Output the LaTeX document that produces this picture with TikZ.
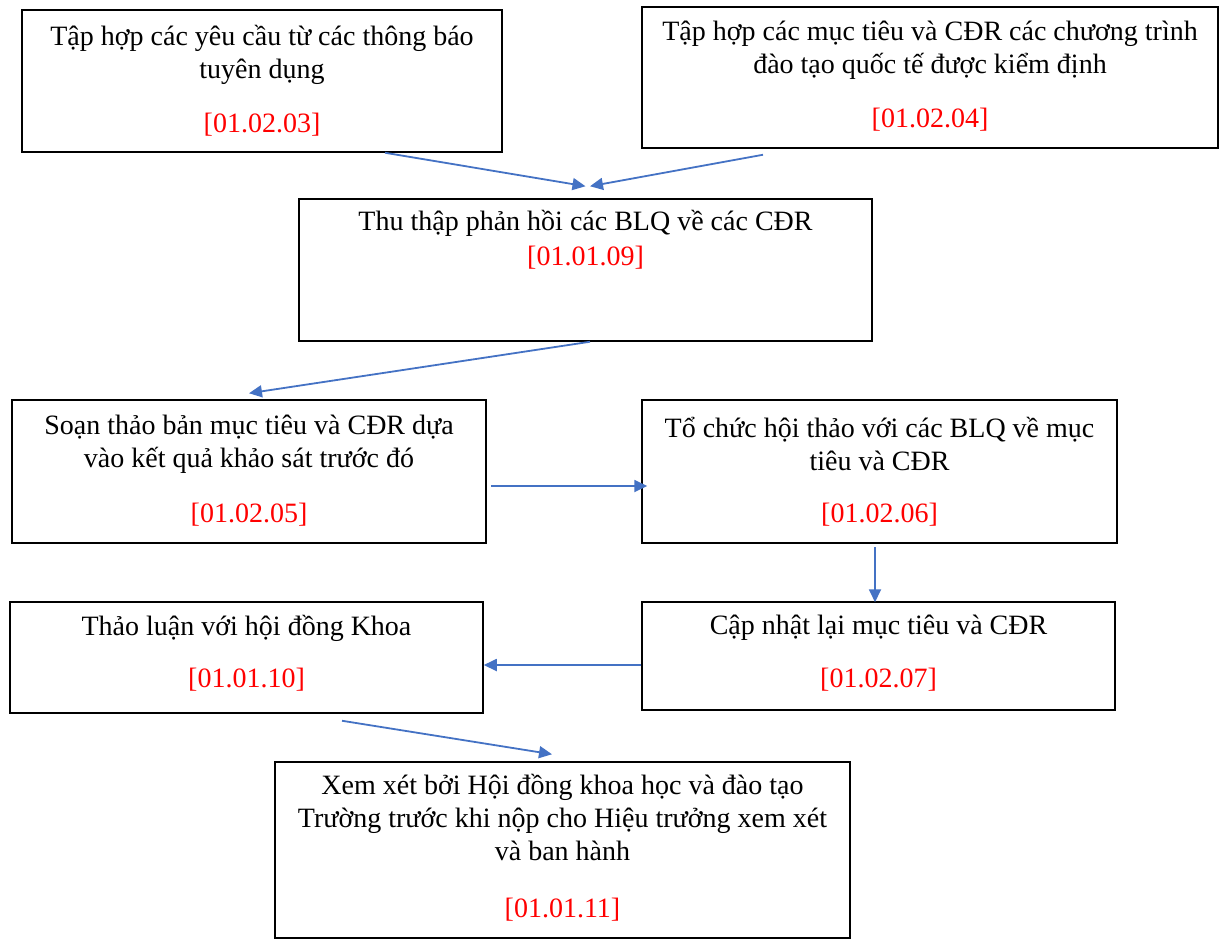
\documentclass[tikz,border=0pt]{standalone}
\usepackage{fontspec}
\setmainfont{Liberation Serif}
\usetikzlibrary{arrows.meta}
\definecolor{flowblue}{RGB}{68,114,196}
\definecolor{codered}{RGB}{255,0,0}
\begin{document}
\begin{tikzpicture}[x=1pt,y=-1pt,
  box/.style={draw=black, line width=1.5pt, inner sep=0pt, rectangle},
  txt/.style={font=\fontsize{28}{33}\selectfont, align=center, inner sep=0pt},
  code/.style={txt, text=codered},
  flow/.style={draw=flowblue, line width=1.8pt, -{Triangle[length=13pt,width=12pt]}}]
\useasboundingbox (0,0) rectangle (1220,940);

% boxes
\node[box, minimum width=480pt, minimum height=142pt] (A) at (262,81) {};
\node[box, minimum width=576pt, minimum height=141pt] (B) at (930,77.5) {};
\node[box, minimum width=573pt, minimum height=142pt] (C) at (585.5,270) {};
\node[box, minimum width=474pt, minimum height=143pt] (D) at (249,471.5) {};
\node[box, minimum width=475pt, minimum height=143pt] (E) at (879.5,471.5) {};
\node[box, minimum width=473pt, minimum height=108pt] (F) at (878.5,656) {};
\node[box, minimum width=473pt, minimum height=111pt] (G) at (246.5,657.5) {};
\node[box, minimum width=575pt, minimum height=176pt] (H) at (562.5,850) {};

% texts
\node[txt] (At) at (262,55) {Tập hợp các yêu cầu từ các thông báo\\tuyên dụng};
\node[code] (Ac) at (262,125) {[01.02.03]};
\node[txt] (Bt) at (930,50) {Tập hợp các mục tiêu và CĐR các chương trình\\đào tạo quốc tế được kiểm định};
\node[code] (Bc) at (930,120) {[01.02.04]};
\node[txt] (Ct) at (585.5,223) {Thu thập phản hồi các BLQ về các CĐR};
\node[code] (Cc) at (585.5,258) {[01.01.09]};
\node[txt] (Dt) at (249,444) {Soạn thảo bản mục tiêu và CĐR dựa\\vào kết quả khảo sát trước đó};
\node[code] (Dc) at (249,515) {[01.02.05]};
\node[txt] (Et) at (879.5,444) {Tổ chức hội thảo với các BLQ về mục\\tiêu và CĐR};
\node[code] (Ec) at (879.5,515) {[01.02.06]};
\node[txt] (Ft) at (878.5,628) {Cập nhật lại mục tiêu và CĐR};
\node[code] (Fc) at (878.5,680) {[01.02.07]};
\node[txt] (Gt) at (246.5,628) {Thảo luận với hội đồng Khoa};
\node[code] (Gc) at (246.5,680) {[01.01.10]};
\node[txt] (Ht) at (562.5,817) {Xem xét bởi Hội đồng khoa học và đào tạo\\Trường trước khi nộp cho Hiệu trưởng xem xét\\và ban hành};
\node[code] (Hc) at (562.5,910) {[01.01.11]};

% connectors
\draw[flow] ([xshift=123pt]A.south) -- ([yshift=12pt]C.north);
\draw[flow] ([xshift=-167pt,yshift=-6pt]B.south) -- ([xshift=4.5pt,yshift=12pt]C.north);
\draw[flow] ([xshift=4.5pt]C.south) -- ([yshift=6pt]D.north);
\draw[flow] ([xshift=4pt,yshift=-14.5pt]D.east) -- ([xshift=6pt,yshift=-14.5pt]E.west);
\draw[flow] ([xshift=-4.5pt,yshift=-3.5pt]E.south) -- ([xshift=-3.5pt,yshift=-1pt]F.north);
\draw[flow] ([yshift=-9pt]F.west) -- ([yshift=-7.5pt]G.east);
\draw[flow] ([xshift=95.5pt,yshift=-7pt]G.south) -- ([xshift=-10.5pt,yshift=7pt]H.north);
\end{tikzpicture}
\end{document}
